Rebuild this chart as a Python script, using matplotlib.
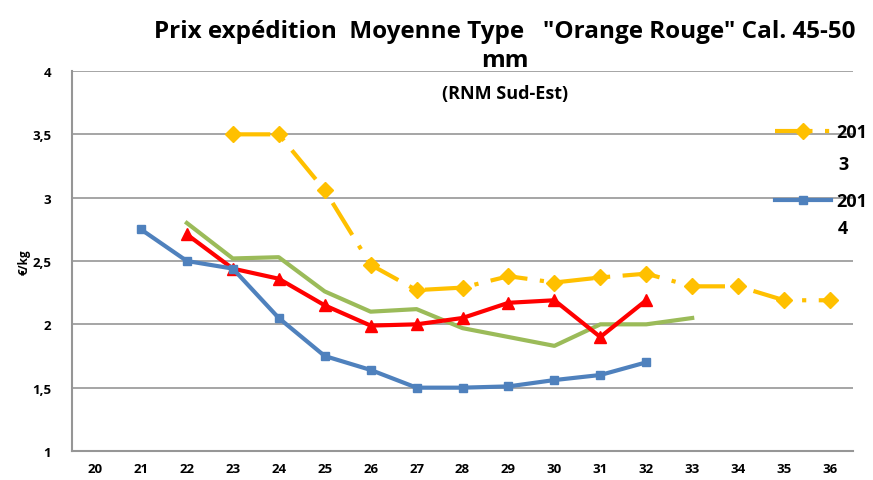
import matplotlib.pyplot as plt

plt.rcParams['font.family'] = ['Open Sans', 'DejaVu Sans']

semaines = list(range(20, 37))

sem_2013 = [23, 24, 25, 26, 27, 28, 29, 30, 31, 32, 33, 34, 35, 36]
prix_2013 = [3.50, 3.50, 3.06, 2.47, 2.27, 2.29, 2.38, 2.33, 2.37, 2.40, 2.30, 2.30, 2.19, 2.19]

sem_2014 = [21, 22, 23, 24, 25, 26, 27, 28, 29, 30, 31, 32]
prix_2014 = [2.75, 2.50, 2.44, 2.05, 1.75, 1.64, 1.50, 1.50, 1.51, 1.56, 1.60, 1.70]

sem_vert = [22, 23, 24, 25, 26, 27, 28, 29, 30, 31, 32, 33]
prix_vert = [2.80, 2.52, 2.53, 2.26, 2.10, 2.12, 1.97, 1.90, 1.83, 2.00, 2.00, 2.05]

sem_rouge = [22, 23, 24, 25, 26, 27, 28, 29, 30, 31, 32]
prix_rouge = [2.71, 2.44, 2.36, 2.15, 1.99, 2.00, 2.05, 2.17, 2.19, 1.90, 2.19]

fig = plt.figure(figsize=(8.73, 4.81), dpi=100)
ax = fig.add_axes([72 / 873, 1 - 452 / 481, (853 - 72) / 873, (452 - 72) / 481])

ax.plot(sem_vert, prix_vert, color='#9BBB59', lw=3, zorder=2)
ax.plot(sem_rouge, prix_rouge, color='#FF0000', lw=3, marker='^', ms=9, zorder=3)
ax.plot(sem_2014, prix_2014, color='#4F81BD', lw=3, marker='s', ms=6, zorder=3, label='2014')
ax.plot(sem_2013, prix_2013, color='#FFC000', lw=3, marker='D', ms=8,
        dashes=(9, 3, 1, 3), zorder=4, label='2013')

ax.set_xlim(19.5, 36.5)
ax.set_ylim(1, 4)
ax.set_xticks(semaines)
ax.set_xticklabels([str(s) for s in semaines], fontweight='bold', fontsize=9.5)
ax.set_yticks([1, 1.5, 2, 2.5, 3, 3.5, 4])
ax.set_yticklabels(['1', '1,5', '2', '2,5', '3', '3,5', '4'], fontweight='bold', fontsize=9.5)
ax.tick_params(axis='x', length=0, pad=8)
ax.tick_params(axis='y', length=0, pad=15)
ax.grid(axis='y', color='#969696', lw=1.2)
ax.set_axisbelow(True)
for s in ['top', 'right']:
    ax.spines[s].set_visible(False)
for s in ['left', 'bottom']:
    ax.spines[s].set_color('#969696')
    ax.spines[s].set_linewidth(1.5)

ax.set_ylabel('€/kg', fontweight='bold', fontsize=8.5, labelpad=1)

fig.text(0.578, 0.903, 'Prix expédition  Moyenne Type   "Orange Rouge" Cal. 45-50\nmm',
         ha='center', va='center', fontsize=17.5, fontweight='bold', linespacing=1.3)
ax.text(0.555, 0.965, '(RNM Sud-Est)', transform=ax.transAxes, ha='center', va='top',
        fontsize=13, fontweight='bold')

# légende : seules 2013 et 2014 sont nommées, texte coupé sur deux lignes
h, l = ax.get_legend_handles_labels()
leg = ax.legend(h[::-1], ['201', '201'], loc='upper left',
                bbox_to_anchor=(775 / 873, 1 - 124 / 481), bbox_transform=fig.transFigure,
                frameon=False, prop={'weight': 'bold', 'size': 13}, handlelength=3.1,
                labelspacing=2.85, handletextpad=0.3, borderpad=0, borderaxespad=0)
fig.text(838 / 873, 1 - 165 / 481, '3', ha='left', va='center', fontsize=13, fontweight='bold')
fig.text(838 / 873, 1 - 229 / 481, '4', ha='left', va='center', fontsize=13, fontweight='bold')

fig.savefig('out.png', dpi=100)
